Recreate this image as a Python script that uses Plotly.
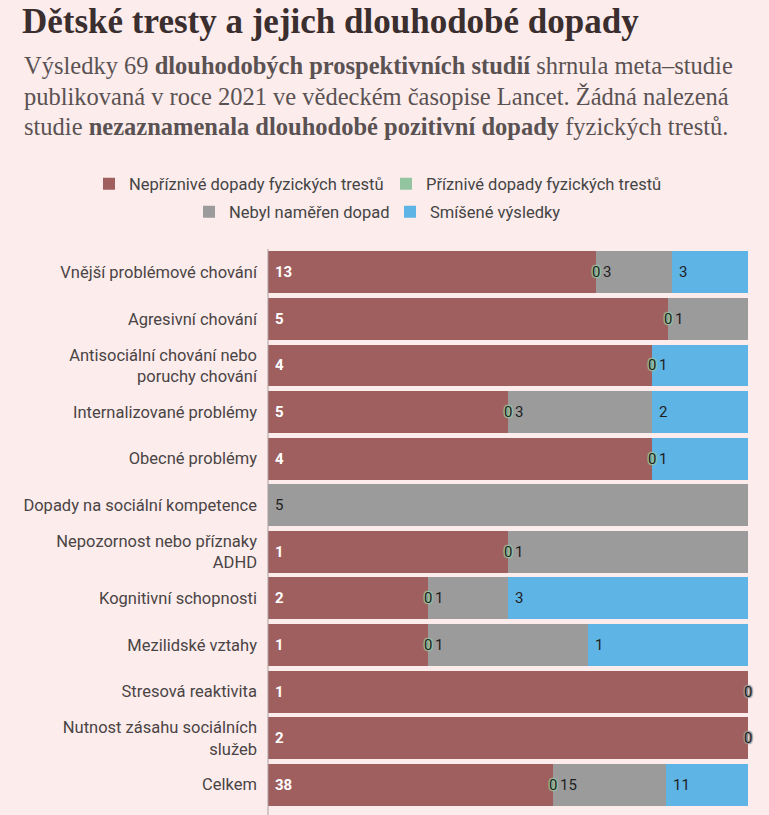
import numpy as np
import plotly.graph_objects as go

# kategorie a počty studií (shora dolů)
kategorie = [
    "Vnější problémové chování",
    "Agresivní chování",
    "Antisociální chování nebo<br>poruchy chování",
    "Internalizované problémy",
    "Obecné problémy",
    "Dopady na sociální kompetence",
    "Nepozornost nebo příznaky<br>ADHD",
    "Kognitivní schopnosti",
    "Mezilidské vztahy",
    "Stresová reaktivita",
    "Nutnost zásahu sociálních<br>služeb",
    "Celkem",
]
neprizniva = [13, 5, 4, 5, 4, 0, 1, 2, 1, 1, 2, 38]
prizniva = [0, 0, 0, 0, 0, 0, 0, 0, 0, 0, 0, 0]
bez_dopadu = [3, 1, 0, 3, 0, 5, 1, 1, 1, 0, 0, 15]
smisene = [3, 0, 1, 2, 1, 0, 0, 3, 1, 0, 0, 11]

nazvy = [
    "Nepříznivé dopady fyzických trestů",
    "Příznivé dopady fyzických trestů",
    "Nebyl naměřen dopad",
    "Smíšené výsledky",
]

podtitulek = [
    "Výsledky 69 <b>dlouhodobých prospektivních studií</b> shrnula meta–studie",
    "publikovaná v roce 2021 ve vědeckém časopise Lancet. Žádná nalezená",
    "studie <b>nezaznamenala dlouhodobé pozitivní dopady</b> fyzických trestů.",
]

bg = "#fcecec"
barvy = ["#a05f5f", "#93c4a0", "#9b9b9b", "#5eb5e5"]
barvy_textu = ["white", "#1e1e1e", "#1e1e1e", "#1e1e1e"]
legendy = ["legend", "legend2", "legend3", "legend4"]

counts = np.array([neprizniva, prizniva, bez_dopadu, smisene], dtype=float)
celkem = counts.sum(axis=0)
podil = counts / celkem * 100
zacatek = np.vstack([np.zeros(len(kategorie)), np.cumsum(podil, axis=0)[:-1]])

fig = go.Figure()
for i in range(4):
    fig.add_trace(go.Bar(
        y=kategorie, x=podil[i], orientation="h", name=nazvy[i],
        marker=dict(color=barvy[i], line=dict(width=0)),
        customdata=counts[i],
        hovertemplate="%{y}: %{customdata:.0f}<extra>" + nazvy[i] + "</extra>",
        legend=legendy[i], showlegend=True,
    ))

def halo(c):
    return ", ".join("%dpx %dpx 1px %s" % (a, b, c) for a in (-1, 1) for b in (-1, 1))

annotations = []
for i in range(4):
    for j, kat in enumerate(kategorie):
        v = counts[i][j]
        if v > 0:
            annotations.append(dict(
                x=float(zacatek[i][j]), y=kat, xref="x", yref="y", text="%d" % v,
                showarrow=False, xanchor="left", xshift=5,
                font=dict(family="Roboto", size=15, color=barvy_textu[i],
                          weight="bold" if i == 0 else "normal"),
            ))

# nulové popisky na hranách segmentů
for j, kat in enumerate(kategorie):
    if 0 < neprizniva[j] < celkem[j]:
        i = 1
    elif neprizniva[j] == celkem[j]:
        i = 2
    else:
        continue
    annotations.append(dict(
        x=float(zacatek[i][j]), y=kat, xref="x", yref="y", text="0",
        showarrow=False, xanchor="center",
        font=dict(family="Roboto", size=15, color="#1e1e1e", shadow=halo(barvy[i])),
    ))

W, H = 769, 815
plot_top, plot_bottom = 249, 808
ph = plot_bottom - plot_top

for radek, py in zip(podtitulek, [65.5, 96.5, 126.5]):
    annotations.append(dict(
        xref="paper", yref="paper", x=(22 - 268) / 480, y=(plot_bottom - py) / ph,
        xanchor="left", yanchor="middle", align="left", showarrow=False,
        text=radek,
        font=dict(family="Liberation Serif", size=24.5, color="#5a5252"),
    ))

# legenda ve dvou řádcích: (levý okraj čtverečku, střed řádku) v pixelech
leg_pos = [(108, 184), (405, 184), (208, 212), (409, 212)]
legend_layout = {}
for k, (lx, ly) in zip(legendy, leg_pos):
    legend_layout[k] = dict(
        orientation="h", xref="container", yref="container",
        x=(lx - 19) / W, xanchor="left", y=1 - ly / H, yanchor="middle",
        font=dict(family="Roboto", size=16.5, color="#444"),
        bgcolor="rgba(0,0,0,0)",
    )

fig.update_layout(
    width=W, height=H, showlegend=True,
    barmode="stack", bargap=0.1,
    paper_bgcolor=bg, plot_bgcolor=bg,
    margin=dict(l=268, r=21, t=plot_top, b=H - plot_bottom, autoexpand=False),
    font=dict(family="Roboto", color="#444"),
    title=dict(
        text="<b>Dětské tresty a jejich dlouhodobé dopady</b>",
        xref="container", yref="container", x=22 / W, y=1 - 8 / H,
        xanchor="left", yanchor="top",
        font=dict(family="Liberation Serif", size=35, color="#3a2e2e"),
    ),
    xaxis=dict(range=[0, 100], visible=False, fixedrange=True),
    yaxis=dict(autorange="reversed", showline=False, ticks="", ticklabelstandoff=10,
               showgrid=False,
               tickfont=dict(family="Roboto", size=16.5, color="#4a4444")),
    shapes=[dict(type="line", xref="paper", yref="paper", x0=0, x1=0,
                 y0=-(H - plot_bottom) / ph, y1=1, line=dict(color="#a8a0a0", width=1))],
    annotations=annotations,
    **legend_layout,
)

fig.write_html("out.html", config={"displayModeBar": False},
               post_script="document.body.style.margin='0';")
